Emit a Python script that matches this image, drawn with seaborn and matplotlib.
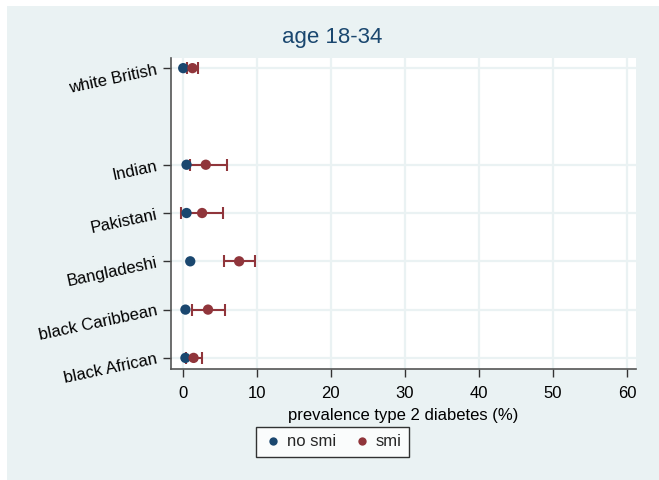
import matplotlib
matplotlib.use("Agg")
import matplotlib.pyplot as plt
import matplotlib.patches as mpatches
import seaborn as sns
import pandas as pd
import numpy as np

# Ethnic groups and their vertical positions (gap above white British)
groups = ["white British", "Indian", "Pakistani", "Bangladeshi", "black Caribbean", "black African"]
ypos = [7, 5, 4, 3, 2, 1]

# Prevalence (%) of type 2 diabetes, age 18-34
no_smi = [0.05, 0.5, 0.5, 1.0, 0.35, 0.35]
smi = [1.3, 3.1, 2.6, 7.6, 3.4, 1.45]
smi_lo = [0.6, 1.0, -0.3, 5.5, 1.2, 0.4]
smi_hi = [2.1, 6.0, 5.4, 9.7, 5.7, 2.6]

navy = "#1a476f"
maroon = "#90353b"
bg = "#eaf2f3"

sns.set_theme(style="white")
plt.rcParams["font.family"] = ["Liberation Sans", "DejaVu Sans"]

fig = plt.figure(figsize=(6.59, 4.8), dpi=100)
fig.patch.set_facecolor("white")
fig.patches.append(mpatches.Rectangle((7 / 659, 0), 1, 1 - 6 / 480,
                                      transform=fig.transFigure,
                                      facecolor=bg, edgecolor="none", zorder=-10))

ax = fig.add_axes([171 / 659, 1 - 369 / 480, (636 - 171) / 659, (369 - 58) / 480])
ax.set_facecolor("white")

df = pd.DataFrame({
    "group": groups * 2,
    "y": ypos * 2,
    "prev": no_smi + smi,
    "status": ["no smi"] * len(groups) + ["smi"] * len(groups),
})

# Confidence intervals for the smi group
ax.errorbar(smi, ypos,
            xerr=[np.array(smi) - np.array(smi_lo), np.array(smi_hi) - np.array(smi)],
            fmt="none", ecolor=maroon, elinewidth=1.5, capsize=4, capthick=1.5, zorder=2)

sns.scatterplot(data=df, x="prev", y="y", hue="status",
                palette={"no smi": navy, "smi": maroon},
                s=55, edgecolor="none", ax=ax, zorder=3, legend=False)

ax.set_xlim(-1.6, 61.2)
ax.set_ylim(0.77, 7.21)
ax.set_xticks([0, 10, 20, 30, 40, 50, 60])
ax.set_yticks(ypos)
ax.set_yticklabels(groups, rotation=12)

ax.grid(True, color=bg, linewidth=1.6)
ax.set_axisbelow(True)

for side in ["top", "right"]:
    ax.spines[side].set_visible(False)
for side in ["left", "bottom"]:
    ax.spines[side].set_color("#555555")
    ax.spines[side].set_linewidth(1.2)

ax.tick_params(axis="both", which="major", direction="out", length=6, width=1,
               color="#333333", labelsize=12, labelcolor="black", left=True, bottom=True)
ax.tick_params(axis="x", pad=6)
ax.tick_params(axis="y", pad=3)

ax.set_xlabel("prevalence type 2 diabetes (%)", fontsize=12, color="black", labelpad=5)
ax.set_ylabel("")

fig.text(332 / 659, 1 - 38 / 480, "age 18-34", ha="center", va="center",
         fontsize=16, color=navy)

handles = [
    plt.Line2D([], [], marker="o", linestyle="none", markersize=6,
               markerfacecolor=navy, markeredgecolor="none", label="no smi"),
    plt.Line2D([], [], marker="o", linestyle="none", markersize=6,
               markerfacecolor=maroon, markeredgecolor="none", label="smi"),
]
leg = fig.legend(handles=handles, loc="center", bbox_to_anchor=(332.5 / 659, 1 - 442 / 480),
                 ncol=2, frameon=True, fontsize=12, handletextpad=0.2, handlelength=1.2,
                 columnspacing=1.0, borderpad=0.45, fancybox=False)
leg.get_frame().set_edgecolor("black")
leg.get_frame().set_linewidth(1)
leg.get_frame().set_facecolor("white")

fig.savefig("out.png", dpi=100, facecolor=fig.get_facecolor())
